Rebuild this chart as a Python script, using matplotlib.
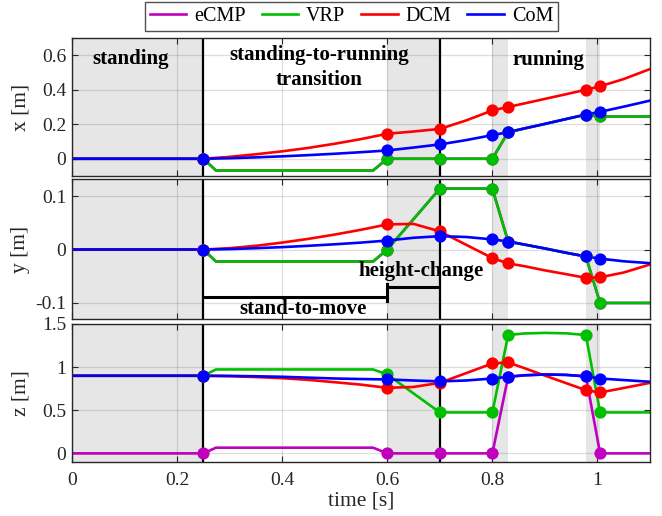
import numpy as np
import matplotlib
matplotlib.use("Agg")
import matplotlib.pyplot as plt
from matplotlib.ticker import FuncFormatter

plt.rcParams['font.family'] = ['Liberation Serif', 'DejaVu Serif']
plt.rcParams['axes.unicode_minus'] = False

# ---------------- data ----------------
events = [0.25, 0.6, 0.7, 0.8, 0.83, 0.978, 1.005]
shaded_spans = [(0.0, 0.25), (0.6, 0.7), (0.8, 0.83), (0.978, 1.005)]
phase_lines = [0.25, 0.7]

# CoM / DCM sample times
t_cd = [0, 0.25, 0.3, 0.35, 0.4, 0.45, 0.5, 0.55, 0.6, 0.65, 0.7, 0.75, 0.8,
        0.83, 0.86, 0.9, 0.94, 0.978, 1.005, 1.05, 1.1]
com_x = [0, 0, 0.003, 0.008, 0.014, 0.021, 0.029, 0.038, 0.048, 0.065, 0.083,
         0.108, 0.137, 0.154, 0.175, 0.202, 0.23, 0.256, 0.272, 0.302, 0.337]
com_y = [0, 0, 0.0008, 0.0025, 0.0045, 0.007, 0.0098, 0.013, 0.0168, 0.022,
         0.025, 0.0235, 0.019, 0.015, 0.0095, 0.002, -0.006, -0.013, -0.017,
         -0.022, -0.0255]
com_z = [0.9, 0.9, 0.898, 0.894, 0.888, 0.878, 0.868, 0.862, 0.857, 0.845,
         0.835, 0.845, 0.868, 0.888, 0.905, 0.915, 0.91, 0.893, 0.868, 0.85,
         0.83]
dcm_x = [0, 0, 0.011, 0.026, 0.043, 0.063, 0.087, 0.114, 0.145, 0.158, 0.173,
         0.222, 0.28, 0.30, 0.32, 0.347, 0.374, 0.40, 0.42, 0.462, 0.52]
dcm_y = [0, 0, 0.0025, 0.007, 0.013, 0.02, 0.028, 0.037, 0.047, 0.048,
         0.034, 0.009, -0.016, -0.026, -0.031, -0.039, -0.046, -0.053, -0.052,
         -0.043, -0.028]
dcm_z = [0.9, 0.9, 0.895, 0.885, 0.872, 0.852, 0.825, 0.797, 0.76, 0.77,
         0.818, 0.93, 1.043, 1.054, 0.99, 0.902, 0.815, 0.733, 0.706, 0.758,
         0.818]

# VRP / eCMP sample times
t_vr = [0, 0.25, 0.274, 0.573, 0.6, 0.7, 0.8, 0.83, 0.86, 0.9, 0.94, 0.978,
        1.005, 1.1]
vrp_x = [0, 0, -0.068, -0.068, 0, 0, 0, 0.154, 0.175, 0.202, 0.23, 0.256,
         0.245, 0.245]
vrp_y = [0, 0, -0.0224, -0.0224, 0, 0.114, 0.114, 0.015, 0.0095, 0.002,
         -0.006, -0.013, -0.1, -0.1]
vrp_z = [0.9, 0.9, 0.973, 0.973, 0.915, 0.475, 0.475, 1.372, 1.39, 1.397,
         1.392, 1.372, 0.475, 0.475]
ecmp_x = vrp_x
ecmp_y = vrp_y
ecmp_z = [0, 0, 0.066, 0.066, 0, 0, 0, 0.888, 0.905, 0.915, 0.91, 0.893, 0, 0]

series_names = ['eCMP', 'VRP', 'DCM', 'CoM']
colors = {'eCMP': '#bf00bf', 'VRP': '#00bf00', 'DCM': '#ff0000', 'CoM': '#0000ff'}
series = {
    'eCMP': (t_vr, [ecmp_x, ecmp_y, ecmp_z]),
    'VRP': (t_vr, [vrp_x, vrp_y, vrp_z]),
    'DCM': (t_cd, [dcm_x, dcm_y, dcm_z]),
    'CoM': (t_cd, [com_x, com_y, com_z]),
}

y_labels = ['x [m]', 'y [m]', 'z [m]']
y_lims = [(-0.1, 0.7), (-0.13, 0.132), (-0.1, 1.5)]
y_ticks = [[0, 0.2, 0.4, 0.6], [-0.1, 0, 0.1], [0, 0.5, 1, 1.5]]
x_ticks = [0, 0.2, 0.4, 0.6, 0.8, 1.0]

# ---------------- figure ----------------
W, H = 662, 516
fig = plt.figure(figsize=(W / 100, H / 100), dpi=100)
left, right = 72, 650
panel_px = [(38, 176), (179, 319), (324, 462)]
axes = []
for top, bot in panel_px:
    ax = fig.add_axes([left / W, 1 - bot / H, (right - left) / W, (bot - top) / H])
    axes.append(ax)

fmt = FuncFormatter(lambda v, p: ('%g' % v))
lw = 1.9
ms = 8.8
for i, ax in enumerate(axes):
    ax.set_xlim(0, 1.1)
    ax.set_ylim(*y_lims[i])
    for a, b in shaded_spans:
        ax.axvspan(a, b, color='#e6e6e6', lw=0, zorder=0.1)
    ax.set_axisbelow(True)
    ax.grid(True, color=(0.15, 0.15, 0.15), alpha=0.15, lw=0.9)
    for xl in phase_lines:
        ax.axvline(xl, color='black', lw=1.6, zorder=1.5)
    for name in series_names:
        t, comps = series[name]
        vals = np.asarray(comps[i])
        tt = np.asarray(t)
        ax.plot(tt, vals, color=colors[name], lw=lw, zorder=2, label=name,
                solid_joinstyle='round')
        m = np.isin(tt, events)
        ax.plot(tt[m], vals[m], 'o', color=colors[name], ms=ms, mew=0, zorder=3)
    ax.set_xticks(x_ticks)
    ax.set_yticks(y_ticks[i])
    ax.yaxis.set_major_formatter(fmt)
    ax.xaxis.set_major_formatter(fmt)
    ax.tick_params(direction='in', length=4, width=0.8, colors='#262626',
                   labelcolor='#262626', labelsize=14, top=True, right=True, pad=4)
    if i < 2:
        ax.tick_params(labelbottom=False)
    else:
        ax.tick_params(axis='x', pad=7)
    for sp in ax.spines.values():
        sp.set_color('#262626')
        sp.set_linewidth(1.0)
    ax.set_ylabel(y_labels[i], fontsize=15.5, color='#262626')
    ax.yaxis.set_label_coords(-0.072, 0.5)

axes[2].set_xlabel('time [s]', fontsize=15.5, color='#262626')
axes[2].xaxis.set_label_coords(0.5, -0.215)

# ---------------- annotations ----------------
bold = dict(fontsize=15, fontweight='bold', ha='center', va='center', zorder=5)
axes[0].text(0.112, 0.578, 'standing', **bold)
axes[0].text(0.47, 0.60, 'standing-to-running', **bold)
axes[0].text(0.47, 0.457, 'transition', **bold)
axes[0].text(0.907, 0.572, 'running', **bold)

ax = axes[1]
ax.text(0.665, -0.0405, 'height-change', **bold)
ax.text(0.44, -0.112, 'stand-to-move', **bold)
ax.plot([0.25, 0.6], [-0.0897, -0.0897], color='black', lw=2.2, zorder=4,
        solid_capstyle='butt')
ax.plot([0.6, 0.6], [-0.0897 - 0.0068, -0.0897 + 0.0068], color='black', lw=2.2, zorder=4)
ax.plot([0.6, 0.7], [-0.0704, -0.0704], color='black', lw=2.2, zorder=4,
        solid_capstyle='butt')
ax.plot([0.6, 0.6], [-0.0704 - 0.0065, -0.0704 + 0.0065], color='black', lw=2.2, zorder=4)

# ---------------- legend ----------------
handles = [plt.Line2D([], [], color=colors[n], lw=lw) for n in series_names]
leg = fig.legend(handles, series_names, loc='upper center', ncol=4,
                 bbox_to_anchor=(351.5 / W, 1 - 2 / H), fontsize=14.5,
                 frameon=True, fancybox=False, edgecolor='#262626',
                 handlelength=1.8, handletextpad=0.4, columnspacing=0.8,
                 borderpad=0.25, borderaxespad=0)
leg.get_frame().set_linewidth(1.0)

fig.savefig('out.png', dpi=100)
